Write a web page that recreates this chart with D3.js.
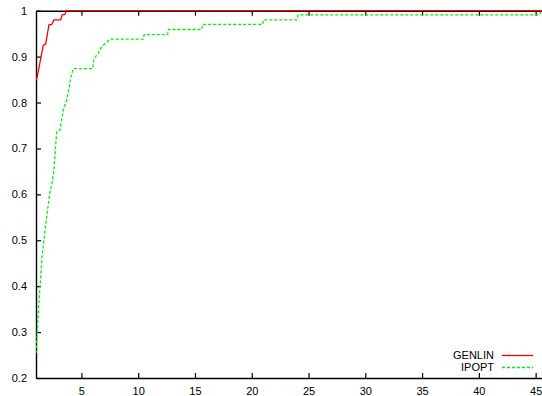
<!DOCTYPE html>
<html>
<head>
<meta charset="utf-8">
<script src="https://cdn.jsdelivr.net/npm/d3@7/dist/d3.min.js"></script>
<style>
  html, body { margin: 0; padding: 0; background: #fff; }
  svg { display: block; }
  text { font-family: "Liberation Sans", Arial, sans-serif; font-size: 11px; fill: #000; }
</style>
</head>
<body>
<svg id="chart" width="542" height="396"></svg>
<script>
// Performance profile: fraction of problems solved within a factor tau of the best solver
const seriesNames = ["GENLIN", "IPOPT"];
const seriesColors = ["#ff0000", "#00f000"];

const genlinTau = [1, 1.11, 1.44, 1.64, 1.85, 2.14, 2.38, 2.58, 3.17, 3.31, 3.55, 3.64, 46];
const genlinRho = [0.849, 0.856, 0.899, 0.925, 0.927, 0.969, 0.970, 0.980, 0.980, 0.991, 0.992, 1.0, 1.0];

const ipoptTau = [1, 1.11, 1.35, 1.40, 1.53, 1.94, 2.23, 2.38, 2.58, 2.82, 3.11, 3.40, 3.70, 3.93, 4.05, 4.28,
                  5.99, 6.11, 6.48, 6.63, 6.92, 7.25, 7.51, 10.45, 10.52, 12.59, 12.66, 15.59, 15.66,
                  20.96, 21.03, 23.98, 24.08, 45.37, 45.45, 46];
const ipoptRho = [0.254, 0.301, 0.400, 0.413, 0.464, 0.551, 0.606, 0.620, 0.653, 0.736, 0.740, 0.784, 0.805, 0.834, 0.853, 0.874,
                  0.874, 0.896, 0.907, 0.916, 0.925, 0.932, 0.938, 0.938, 0.948, 0.948, 0.959, 0.959, 0.970,
                  0.970, 0.980, 0.980, 0.991, 0.991, 1.0, 1.0];

const xTicks = [5, 10, 15, 20, 25, 30, 35, 40, 45];
const yTicks = [0.2, 0.3, 0.4, 0.5, 0.6, 0.7, 0.8, 0.9, 1];
const yTickLabels = ["0.2", "0.3", "0.4", "0.5", "0.6", "0.7", "0.8", "0.9", "1"];

const svg = d3.select("#chart");
const plotLeft = 36, plotRight = 547, plotTop = 10.7, plotBottom = 378;

const x = d3.scaleLinear().domain([1, 46]).range([plotLeft, plotRight]);
const y = d3.scaleLinear().domain([0.2, 1]).range([plotBottom, plotTop]);

svg.append("defs").append("clipPath").attr("id", "plotclip")
  .append("rect").attr("x", plotLeft).attr("y", plotTop - 2)
  .attr("width", plotRight - plotLeft).attr("height", plotBottom - plotTop + 2);

const line = d3.line().x(d => x(d[0])).y(d => y(d[1]));

const series = [
  { pts: d3.zip(genlinTau, genlinRho), color: seriesColors[0], dash: null },
  { pts: d3.zip(ipoptTau, ipoptRho), color: seriesColors[1], dash: "3,2" }
];

// Axes (gnuplot style: inward ticks, mirrored on top and right)
const axisStroke = "#000";
const bottomAxis = d3.axisBottom(x).tickValues(xTicks).tickSizeInner(-5).tickSizeOuter(0).tickPadding(9)
  .tickFormat(d3.format("d"));
const gB = svg.append("g").attr("transform", `translate(0,${plotBottom})`).call(bottomAxis);
const topAxis = d3.axisTop(x).tickValues(xTicks).tickSizeInner(-5).tickSizeOuter(0).tickFormat("");
const gT = svg.append("g").attr("transform", `translate(0,${plotTop})`).call(topAxis);
const leftAxis = d3.axisLeft(y).tickValues(yTicks).tickSizeInner(-5).tickSizeOuter(0).tickPadding(9)
  .tickFormat((d, i) => yTickLabels[i]);
const gL = svg.append("g").attr("transform", `translate(${plotLeft},0)`).call(leftAxis);
const rightAxis = d3.axisRight(y).tickValues(yTicks).tickSizeInner(-5).tickSizeOuter(0).tickFormat("");
const gR = svg.append("g").attr("transform", `translate(${plotRight},0)`).call(rightAxis);

[gB, gT, gL, gR].forEach(g => {
  g.select(".domain").attr("stroke", axisStroke).attr("stroke-width", 1.4);
  g.selectAll(".tick line").attr("stroke", axisStroke).attr("stroke-width", 1.2);
  g.selectAll("text").attr("font-family", "Liberation Sans, Arial, sans-serif").attr("font-size", 11).attr("fill", "#000");
});

// Curves
const plot = svg.append("g").attr("clip-path", "url(#plotclip)");
series.slice().reverse().forEach(s => {
  plot.append("path").datum(s.pts)
    .attr("d", line)
    .attr("fill", "none")
    .attr("stroke", s.color)
    .attr("stroke-width", 1.3)
    .attr("stroke-dasharray", s.dash);
});

// Legend
const legend = svg.append("g");
seriesNames.forEach((name, i) => {
  const ly = 355.5 + i * 12;
  legend.append("text").attr("x", 494).attr("y", ly).attr("dy", "0.35em")
    .attr("text-anchor", "end").text(name);
  legend.append("line").attr("x1", 502).attr("x2", 533).attr("y1", ly).attr("y2", ly)
    .attr("stroke", series[i].color).attr("stroke-width", 1.3)
    .attr("stroke-dasharray", series[i].dash);
});
</script>
</body>
</html>
